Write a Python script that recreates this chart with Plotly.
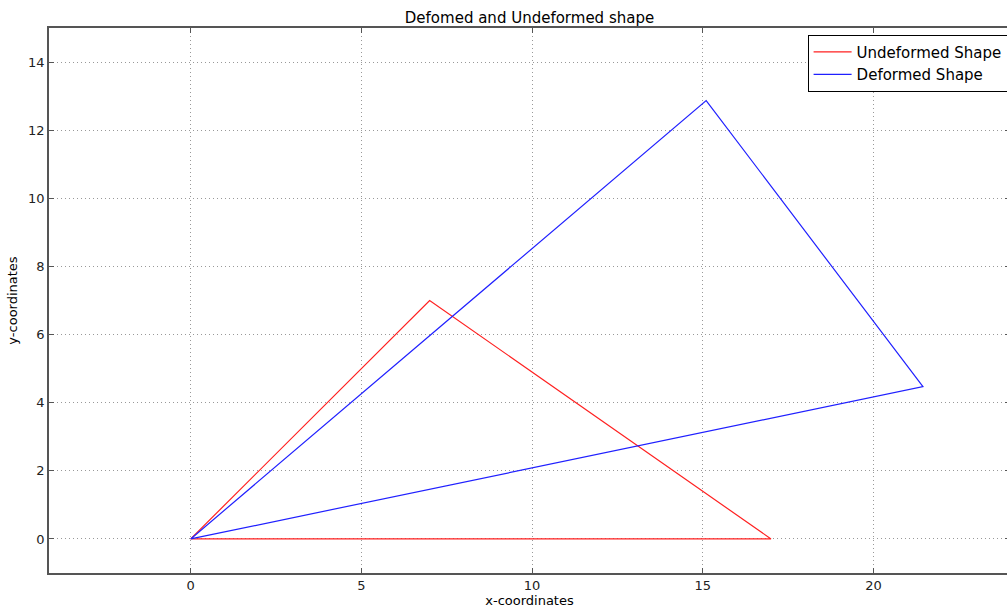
import plotly.graph_objects as go

undeformed_x = [0, 7, 17, 0]
undeformed_y = [0, 7, 0, 0]
deformed_x = [0, 15.1, 21.45, 0]
deformed_y = [0, 12.87, 4.47, 0]

x_ticks = [0, 5, 10, 15, 20]
y_ticks = [0, 2, 4, 6, 8, 10, 12, 14]

fig = go.Figure()
fig.add_trace(go.Scatter(x=undeformed_x, y=undeformed_y, mode="lines",
                         line=dict(color="#ff2020", width=1.2), name="Undeformed Shape"))
fig.add_trace(go.Scatter(x=deformed_x, y=deformed_y, mode="lines",
                         line=dict(color="#2020ff", width=1.2), name="Deformed Shape"))

axis_common = dict(
    showline=True, linecolor="#555555", linewidth=1.5, mirror="allticks",
    ticks="inside", ticklen=5, tickcolor="#555555",
    showgrid=True, gridcolor="#999999", griddash="1px,3px", gridwidth=1,
    zeroline=False,
    tickfont=dict(family="DejaVu Sans", size=13, color="#222222"),
)

fig.update_layout(
    width=1012, height=611,
    margin=dict(l=49, r=0, t=28, b=38),
    paper_bgcolor="white", plot_bgcolor="white",
    title=dict(text="Defomed and Undeformed shape", x=0.5, xanchor="center",
               xref="paper", y=1 - 18 / 611, yanchor="middle",
               font=dict(family="DejaVu Sans", size=15, color="#000000")),
    xaxis=dict(range=[-4.15, 24.0], tickvals=x_ticks,
               title=dict(text="x-coordinates", standoff=4,
                          font=dict(family="DejaVu Sans", size=13, color="#000000")),
               **axis_common),
    yaxis=dict(range=[-1, 15], tickvals=y_ticks,
               title=dict(text="y-coordinates", standoff=8,
                          font=dict(family="DejaVu Sans", size=13, color="#000000")),
               **axis_common),
    legend=dict(x=0.9975, xanchor="right", y=0.988, yanchor="top",
                itemwidth=38,
                bgcolor="white", bordercolor="#000000", borderwidth=1,
                font=dict(family="DejaVu Sans", size=15, color="#000000")),
    showlegend=True,
)

fig.write_html("out.html", config={"displayModeBar": False},
               post_script="document.body.style.margin='0';document.body.style.overflow='hidden';")
